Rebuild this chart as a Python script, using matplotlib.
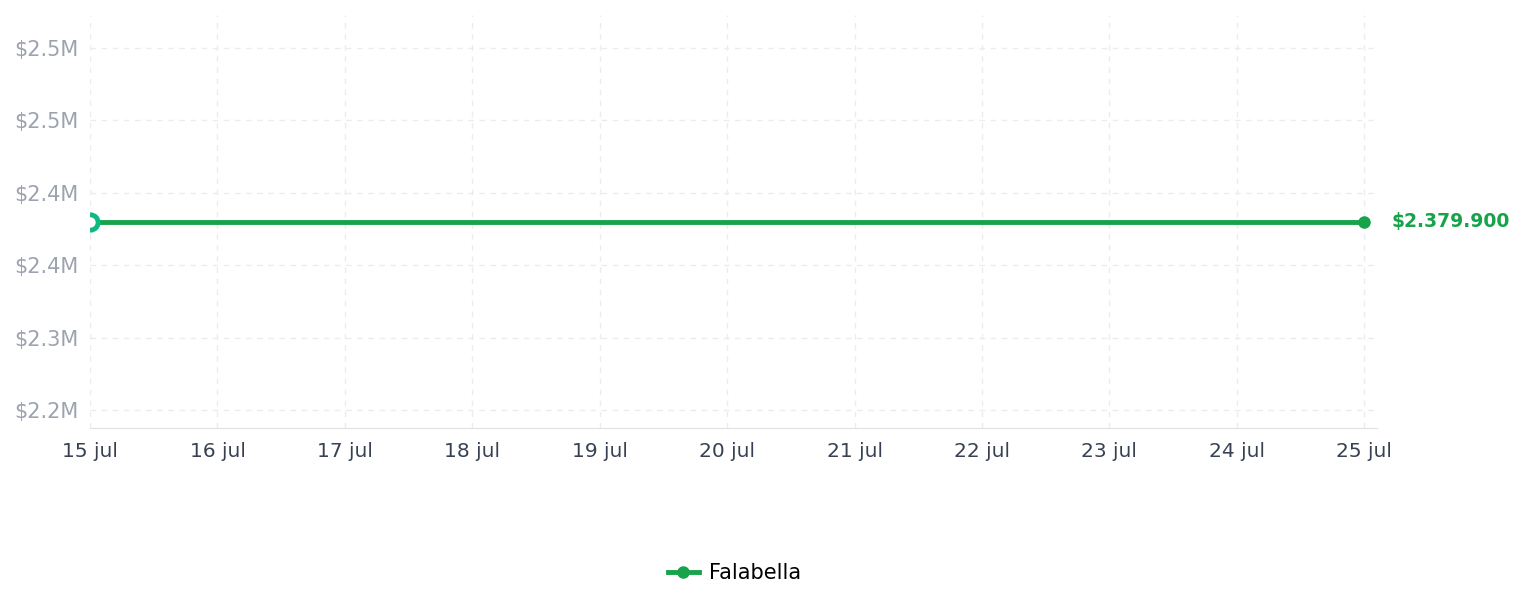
import numpy as np
import matplotlib
matplotlib.use("Agg")
import matplotlib.pyplot as plt
from matplotlib.ticker import FuncFormatter

# --- data ---
days = [15, 25]                 # day of July
prices = [2379900, 2379900]     # Falabella price
series_name = "Falabella"
x_ticks = list(range(15, 26))
x_labels = [f"{d} jul" for d in x_ticks]
y_ticks = [2.25e6, 2.30e6, 2.35e6, 2.40e6, 2.45e6, 2.50e6]

green = "#16a34a"
start_green = "#10b981"

fig = plt.figure(figsize=(15.24, 6.07), dpi=100)
ax = fig.add_axes([0.0591, 0.2949, 0.9035 - 0.0591, 0.9753 - 0.2949])

ax.plot(days, prices, color=green, lw=3.5, marker="o", ms=8,
        markevery=[len(days) - 1], label=series_name, zorder=3)
# hollow start marker
ax.plot(days[0], prices[0], "o", ms=11, mfc="white", mec=start_green,
        mew=3.5, zorder=4, clip_on=True)

ax.annotate(f"${prices[-1]:,.0f}".replace(",", "."), (days[-1], prices[-1]),
            xytext=(20, 0), textcoords="offset points", color=green,
            fontsize=13.5, fontweight="bold", va="center", ha="left",
            annotation_clip=False)

ax.set_xlim(15, 25.1)
ax.set_ylim(2.2376e6, 2.5228e6)
ax.set_xticks(x_ticks)
ax.set_xticklabels(x_labels)
ax.set_yticks(y_ticks)
ax.yaxis.set_major_formatter(FuncFormatter(lambda v, p: f"${v/1e6:.1f}M"))

ax.grid(True, color="#ececec", ls=(0, (4, 4)), lw=1)
for s in ["top", "right", "left"]:
    ax.spines[s].set_visible(False)
ax.spines["bottom"].set_color("#e0e0e0")
ax.tick_params(axis="both", length=0)
ax.tick_params(axis="x", colors="#374151", pad=10, labelsize=14.5)
ax.tick_params(axis="y", colors="#9ca3af", pad=8, labelsize=15)

handles, labels = ax.get_legend_handles_labels()
fig.legend(handles, labels, loc="center",
           bbox_to_anchor=(0.482, 0.056), frameon=False, fontsize=15,
           handlelength=1.5, handletextpad=0.5, markerscale=1.0)

fig.savefig("out.png", dpi=100)
